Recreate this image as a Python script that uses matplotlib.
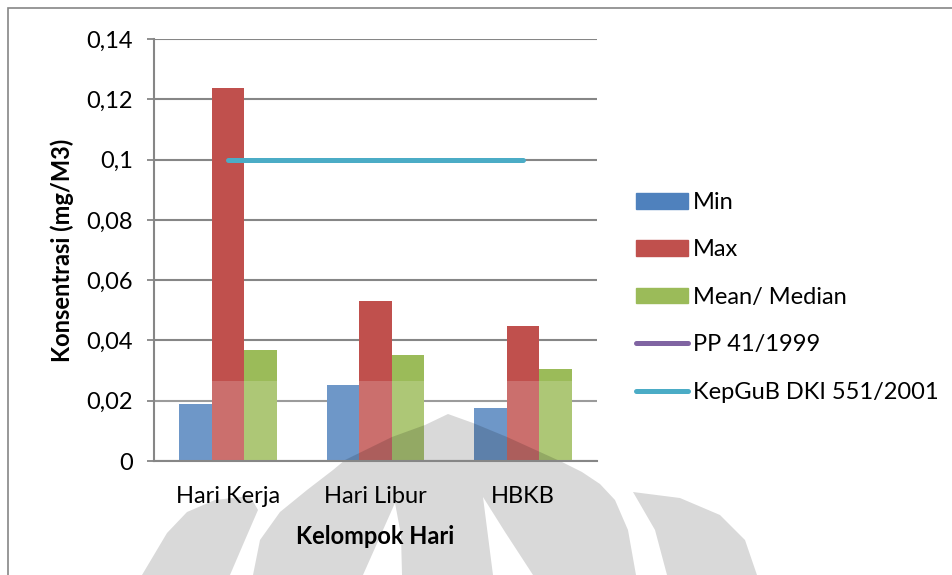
import matplotlib
matplotlib.use("Agg")
import matplotlib.pyplot as plt
from matplotlib.patches import Patch, Polygon, Rectangle
from matplotlib.lines import Line2D
from matplotlib.ticker import FuncFormatter

plt.rcParams['font.family'] = ['Lato', 'DejaVu Sans']

# Data
kategori = ['Hari Kerja', 'Hari Libur', 'HBKB']
nilai_min = [0.0188, 0.0253, 0.0175]
nilai_max = [0.1236, 0.0532, 0.0449]
nilai_mean = [0.0368, 0.0352, 0.0305]
pp_41_1999 = [0.15, 0.15, 0.15]      # di luar skala sumbu, tidak terlihat
kepgub_551 = [0.1, 0.1, 0.1]
y_ticks = [0, 0.02, 0.04, 0.06, 0.08, 0.1, 0.12, 0.14]

W, H = 953, 575
fig = plt.figure(figsize=(W / 100, H / 100), dpi=100)
ax = fig.add_axes([154 / W, 1 - 461 / H, 443 / W, 422 / H])

grid_col = '#868686'
c_min, c_max, c_mean = '#4F81BD', '#C0504D', '#9BBB59'
c_pp, c_kep = '#8064A2', '#4BACC6'
fs = 17

x = list(range(len(kategori)))
bw = 0.22
ax.bar([i - bw for i in x], nilai_min, bw, color=c_min, zorder=2)
ax.bar(x, nilai_max, bw, color=c_max, zorder=2)
ax.bar([i + bw for i in x], nilai_mean, bw, color=c_mean, zorder=2)
ax.plot(x, pp_41_1999, color=c_pp, lw=3.6, solid_capstyle='round', zorder=3)
ax.plot(x, kepgub_551, color=c_kep, lw=3.6, solid_capstyle='round', zorder=3)

ax.set_xlim(-0.5, 2.5)
ax.set_ylim(0, 0.14)
ax.set_yticks(y_ticks)
ax.yaxis.set_major_formatter(FuncFormatter(lambda v, p: ('%g' % round(v, 2)).replace('.', ',')))
ax.set_xticks(x)
ax.set_xticklabels(kategori)
ax.tick_params(axis='x', length=0, labelsize=fs, pad=18)
ax.tick_params(axis='y', length=5, width=1.3, color=grid_col, labelsize=fs, pad=10)
ax.grid(axis='y', color=grid_col, lw=1.5)
for s in ['top', 'right']:
    ax.spines[s].set_visible(False)
for s in ['left', 'bottom']:
    ax.spines[s].set_color(grid_col)
    ax.spines[s].set_linewidth(1.5)

fig.text(62 / W, 1 - 250 / H, 'Konsentrasi (mg/M3)', fontsize=fs, fontweight='bold',
         rotation=90, ha='center', va='center')
ax.set_xlabel('Kelompok Hari', fontsize=fs, fontweight='bold')
ax.xaxis.set_label_coords(0.5, -0.152)

handles = [Patch(color=c_min), Patch(color=c_max), Patch(color=c_mean),
           Line2D([], [], color=c_pp, lw=3.6, solid_capstyle='round'),
           Line2D([], [], color=c_kep, lw=3.6, solid_capstyle='round')]
labels = ['Min', 'Max', 'Mean/ Median', 'PP 41/1999', 'KepGuB DKI 551/2001']
fig.legend(handles, labels, loc='upper left', bbox_to_anchor=(636 / W, 1 - 192 / H),
           frameon=False, fontsize=fs, handlelength=2.2, handleheight=0.64,
           handletextpad=0.2, labelspacing=1.12, borderaxespad=0, borderpad=0)

# bingkai area grafik
fig.patches.append(Rectangle((8 / W, -0.1), 1.2, 1 - 8 / H + 0.1, transform=fig.transFigure,
                             fill=False, edgecolor=grid_col, lw=1.2, zorder=0))

# efek watermark
def px(pts):
    return [(a / W, 1 - b / H) for a, b in pts]

ax.add_patch(Rectangle((0, 0), 1, 80 / 422, transform=ax.transAxes,
                       facecolor='white', alpha=0.18, edgecolor='none', zorder=2.3))
shapes = [
    [(253, 575), (260, 540), (280, 512), (307, 490), (333, 470), (345, 460), (392, 437),
     (425, 425), (448, 414), (473, 423), (507, 437), (540, 452), (562, 462), (582, 472),
     (600, 484), (615, 500), (628, 530), (636, 575),
     (533, 575), (505, 532), (483, 497), (493, 575), (402, 575), (401, 535), (395, 503),
     (363, 575)],
    [(633, 492), (680, 498), (720, 515), (745, 540), (757, 575), (667, 575), (655, 530)],
    [(142, 575), (167, 533), (187, 512), (215, 500), (250, 496), (258, 510), (245, 540),
     (230, 575)],
]
for pts in shapes:
    ax.add_patch(Polygon(px(pts), closed=True, transform=fig.transFigure, clip_on=False,
                         facecolor='black', alpha=0.15, edgecolor='none', zorder=2.4))

fig.savefig('out.png', dpi=100)
